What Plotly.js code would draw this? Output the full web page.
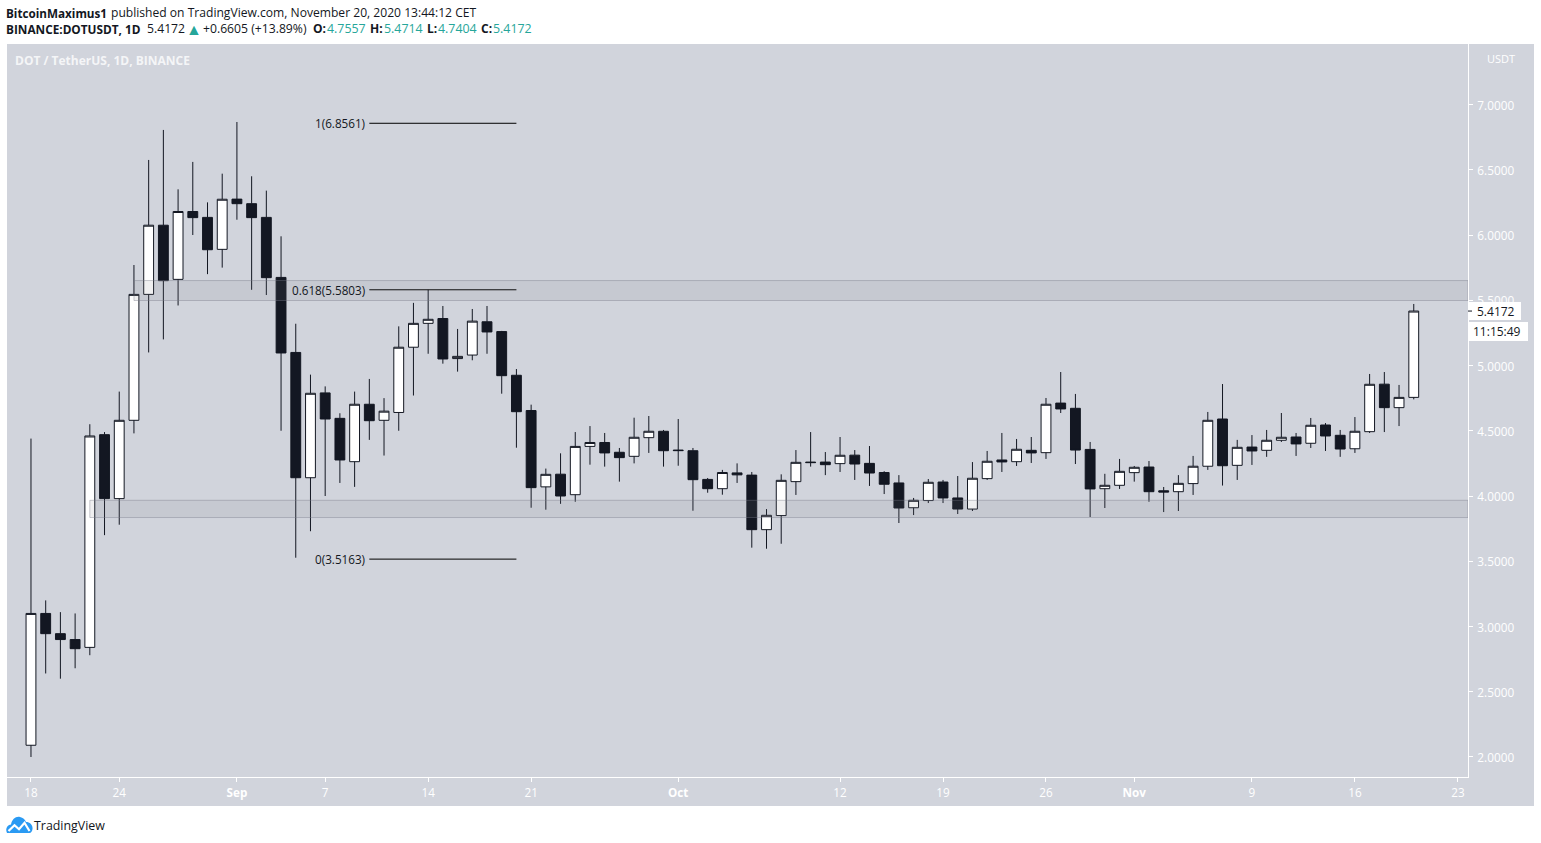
<!DOCTYPE html>
<html>
<head>
<meta charset="utf-8">
<script src="https://cdn.plot.ly/plotly-3.0.1.min.js"></script>
<style>html,body{margin:0;padding:0;background:#fff;overflow:hidden}#chart{width:1541px;height:843px}</style>
</head>
<body>
<div id="chart"></div>
<script>
const dates = [
"2020-08-18","2020-08-19","2020-08-20","2020-08-21","2020-08-22","2020-08-23","2020-08-24","2020-08-25","2020-08-26","2020-08-27","2020-08-28","2020-08-29","2020-08-30","2020-08-31",
"2020-09-01","2020-09-02","2020-09-03","2020-09-04","2020-09-05","2020-09-06","2020-09-07","2020-09-08","2020-09-09","2020-09-10","2020-09-11","2020-09-12","2020-09-13","2020-09-14","2020-09-15","2020-09-16","2020-09-17","2020-09-18","2020-09-19","2020-09-20","2020-09-21","2020-09-22","2020-09-23","2020-09-24","2020-09-25","2020-09-26","2020-09-27","2020-09-28","2020-09-29","2020-09-30",
"2020-10-01","2020-10-02","2020-10-03","2020-10-04","2020-10-05","2020-10-06","2020-10-07","2020-10-08","2020-10-09","2020-10-10","2020-10-11","2020-10-12","2020-10-13","2020-10-14","2020-10-15","2020-10-16","2020-10-17","2020-10-18","2020-10-19","2020-10-20","2020-10-21","2020-10-22","2020-10-23","2020-10-24","2020-10-25","2020-10-26","2020-10-27","2020-10-28","2020-10-29","2020-10-30","2020-10-31",
"2020-11-01","2020-11-02","2020-11-03","2020-11-04","2020-11-05","2020-11-06","2020-11-07","2020-11-08","2020-11-09","2020-11-10","2020-11-11","2020-11-12","2020-11-13","2020-11-14","2020-11-15","2020-11-16","2020-11-17","2020-11-18","2020-11-19","2020-11-20"];
const opens = [2.09,3.10,2.945,2.90,2.84,4.47,3.98,4.58,5.545,6.075,5.66,6.18,6.135,5.89,
6.275,6.24,6.135,5.675,5.10,4.14,4.79,4.595,4.263,4.703,4.58,4.64,5.14,5.323,5.36,5.053,5.08,5.335,5.26,4.925,4.655,4.07,4.167,4.01,4.38,4.41,4.335,4.304,4.447,4.496,
4.352,4.347,4.127,4.056,4.177,4.16,3.742,3.85,4.11,4.26,4.26,4.248,4.313,4.25,4.18,4.10,3.91,3.965,4.107,3.985,3.90,4.133,4.276,4.263,4.35,4.332,4.712,4.672,4.357,4.056,4.082,
4.179,4.222,4.04,4.033,4.095,4.228,4.59,4.235,4.375,4.35,4.427,4.452,4.404,4.544,4.465,4.362,4.493,4.857,4.677,4.7557];
const highs = [4.44,3.20,3.11,3.10,4.55,4.49,4.80,5.77,6.575,6.805,6.35,6.56,6.25,6.47,
6.866,6.45,6.34,5.99,5.32,4.93,4.84,4.634,4.80,4.897,4.75,5.30,5.48,5.58,5.456,5.28,5.433,5.456,5.265,4.973,4.70,4.21,4.327,4.49,4.536,4.483,4.368,4.60,4.613,4.506,
4.59,4.368,4.138,4.20,4.25,4.184,3.90,4.166,4.352,4.49,4.337,4.452,4.352,4.383,4.19,4.16,3.985,4.13,4.123,4.153,4.26,4.345,4.483,4.437,4.452,4.751,4.95,4.782,4.414,4.17,4.284,
4.23,4.268,4.069,4.16,4.307,4.644,4.858,4.43,4.467,4.506,4.636,4.483,4.598,4.559,4.506,4.605,4.935,4.95,4.851,5.4714];
const lows = [2.00,2.64,2.60,2.68,2.78,3.70,3.78,4.48,5.10,5.20,5.46,6.00,5.70,5.75,
6.117,5.58,5.54,4.50,3.527,3.73,4.00,4.10,4.07,4.43,4.31,4.50,4.77,5.09,5.014,4.953,5.04,5.09,4.784,4.37,3.91,3.895,3.94,3.956,4.24,4.225,4.11,4.25,4.33,4.225,
4.232,3.887,4.025,4.01,4.10,3.604,3.596,3.634,4.008,4.225,4.16,4.184,4.123,4.077,4.015,3.793,3.854,3.946,3.946,3.862,3.885,4.123,4.184,4.23,4.253,4.284,4.636,4.245,3.839,3.908,4.054,
4.11,3.956,3.877,3.885,4.008,4.20,4.08,4.123,4.238,4.30,4.414,4.307,4.368,4.345,4.30,4.33,4.483,4.49,4.536,4.7404];
const closes = [3.10,2.945,2.90,2.83,4.46,3.98,4.58,5.545,6.075,5.65,6.18,6.133,5.887,6.274,
6.24,6.133,5.673,5.096,4.14,4.787,4.59,4.276,4.703,4.577,4.65,5.14,5.323,5.354,5.05,5.07,5.34,5.257,4.922,4.646,4.064,4.166,4.00,4.38,4.41,4.33,4.294,4.45,4.496,4.347,
4.348,4.125,4.056,4.18,4.162,3.742,3.852,4.12,4.258,4.256,4.24,4.312,4.245,4.176,4.09,3.908,3.967,4.105,3.985,3.90,4.136,4.266,4.261,4.358,4.33,4.703,4.667,4.352,4.054,4.082,4.189,
4.22,4.033,4.03,4.097,4.228,4.58,4.232,4.373,4.345,4.427,4.45,4.399,4.542,4.46,4.36,4.496,4.856,4.677,4.7557,5.4172];

const yTicks = [2,2.5,3,3.5,4,4.5,5,5.5,6,6.5,7];
const yTickText = ["2.0000","2.5000","3.0000","3.5000","4.0000","4.5000","5.0000","5.5000","6.0000","6.5000","7.0000"];
const xTicks = ["2020-08-18","2020-08-24","2020-09-01","2020-09-07","2020-09-14","2020-09-21","2020-10-01","2020-10-12","2020-10-19","2020-10-26","2020-11-01","2020-11-09","2020-11-16","2020-11-23"];
const xTickText = ["18","24","<b>Sep</b>","7","14","21","<b>Oct</b>","12","19","26","<b>Nov</b>","9","16","23"];

const fibLevels = [6.8561,5.5803,3.5163];
const fibNames = ["1(6.8561)","0.618(5.5803)","0(3.5163)"];
const fibStart = "2020-09-10", fibEnd = "2020-09-20";
const zones = [{from:"2020-08-25",lo:5.498,hi:5.651},{from:"2020-08-22",lo:3.835,hi:3.967}];
const lastPrice = 5.4172;

const INK = "#131722", PANEL = "#d1d4dc", TEAL = "#26a69a";
const FONT = '"Open Sans","Noto Sans",sans-serif';
const xEnd = "2020-11-23 16:30";

const logoSvg = '<svg xmlns="http://www.w3.org/2000/svg" width="27" height="18" viewBox="0 0 27 18">'+
 '<path d="M1 17 C-1 13 1 9 5 8.5 C6 3 10 0 14 1 C17 1.6 19 3.5 20 6 C24 6 27 9 26.5 13 C26.3 15 25 17 23.5 17 Z" fill="#2a9af3"/>'+
 '<path d="M2.5 15 L8.5 9.2 L13 13.2 L18.5 6.8 L23.5 15" fill="none" stroke="#fff" stroke-width="2.2"/></svg>';

const traces = [{
  type:"candlestick", x:dates, open:opens, high:highs, low:lows, close:closes,
  increasing:{line:{color:INK,width:1},fillcolor:"#ffffff"},
  decreasing:{line:{color:INK,width:1},fillcolor:INK},
  whiskerwidth:0, hoverinfo:"skip", showlegend:false
}];
fibLevels.forEach(v=>traces.push({type:"scatter",mode:"lines",x:[fibStart,fibEnd],y:[v,v],
  line:{color:"#000000",width:1},hoverinfo:"skip",showlegend:false}));

const px = v=>(v-7)/1461, py = v=>(777-v)/733;
const shapes = [
 {type:"rect",xref:"paper",yref:"paper",x0:px(7),x1:px(1534),y0:py(806),y1:1,fillcolor:PANEL,line:{width:0},layer:"below"}
].concat(zones.map(z=>({type:"rect",xref:"x",yref:"y",x0:z.from,x1:xEnd,y0:z.lo,y1:z.hi,
  fillcolor:"rgba(120,123,134,0.12)",line:{color:"rgba(120,123,134,0.4)",width:1},layer:"above"})),[
 {type:"rect",xref:"paper",yref:"paper",x0:px(1469),x1:px(1521),y0:py(320),y1:py(302),fillcolor:"#ffffff",line:{width:0},layer:"above"},
 {type:"rect",xref:"paper",yref:"paper",x0:px(1469),x1:px(1528),y0:py(341),y1:py(322),fillcolor:"#ffffff",line:{width:0},layer:"above"},
 {type:"line",xref:"paper",yref:"y",x0:px(1468),x1:px(1472),y0:lastPrice,y1:lastPrice,line:{color:INK,width:1}}
]);

// left: pixel where the glyphs start; annotations add 2px of padding
const ann = (left,mid,text,size,color,bold)=>({showarrow:false,xref:"paper",yref:"paper",xanchor:"left",yanchor:"middle",
  x:px(left-2),y:py(mid),text:bold?"<b>"+text+"</b>":text,font:{family:FONT,size:size||12,color:color||INK}});
const annotations = [
 ann(6,13,"BitcoinMaximus1",11.7,INK,true),
 ann(111,13,"published on TradingView.com, November 20, 2020 13:44:12 CET",12.1),
 ann(6,29,"BINANCE:DOTUSDT, 1D",11.8,INK,true),
 ann(147,29,"5.4172",12.2),
 ann(186,29,"▲",16,TEAL),
 ann(203,29,"+0.6605 (+13.89%)",12.2),
 ann(313,29,"O:",12,INK,true),
 ann(327,29,"4.7557",12.4,TEAL),
 ann(370,29,"H:",12,INK,true),
 ann(384,29,"5.4714",12.4,TEAL),
 ann(427,29,"L:",12,INK,true),
 ann(438,29,"4.7404",12.4,TEAL),
 ann(481,29,"C:",12,INK,true),
 ann(493,29,"5.4172",12.4,TEAL),
 ann(15,60,"DOT / TetherUS, 1D, BINANCE",12,"rgba(255,255,255,0.8)",true),
 ann(1487,58.5,"USDT",11,"#ffffff"),
 ann(34,825,"TradingView",12.4),
 ann(1477,311,"5.4172",12),
 ann(1473,331.5,"11:15:49",12)
].concat(fibLevels.map((v,i)=>({showarrow:false,xref:"x",yref:"y",x:fibStart,y:v,xanchor:"right",yanchor:"middle",xshift:-2,
  text:fibNames[i],font:{family:FONT,size:11.7,color:INK}})));

const layout = {
  width:1541,height:843,
  margin:{l:7,r:73,t:44,b:66,pad:0},
  paper_bgcolor:"#ffffff",plot_bgcolor:PANEL,
  showlegend:false,hovermode:false,boxgap:0.33,boxgroupgap:0,
  font:{family:FONT,size:12,color:"#ffffff"},
  xaxis:{type:"date",range:["2020-08-16 08:53",xEnd],rangeslider:{visible:false},
    tickmode:"array",tickvals:xTicks,ticktext:xTickText,showgrid:false,zeroline:false,
    showline:true,linecolor:"#ffffff",linewidth:1,ticks:"outside",ticklen:4,tickcolor:"#ffffff",ticklabelstandoff:1,
    tickfont:{family:FONT,size:11.7,color:"#ffffff"}},
  yaxis:{side:"right",range:[1.8467,7.4636],tickmode:"array",tickvals:yTicks,ticktext:yTickText,
    showgrid:false,zeroline:false,showline:true,linecolor:"#ffffff",linewidth:1,
    ticks:"outside",ticklen:4,tickcolor:"#ffffff",ticklabelstandoff:2,ticklabelshift:1,
    tickfont:{family:FONT,size:11.8,color:"#ffffff"}},
  shapes:shapes,annotations:annotations,
  images:[{source:"data:image/svg+xml;utf8,"+encodeURIComponent(logoSvg),xref:"paper",yref:"paper",
    x:px(6),y:py(816),sizex:27/1461,sizey:18/733,xanchor:"left",yanchor:"top",sizing:"stretch",layer:"above"}]
};
Plotly.newPlot("chart",traces,layout,{displayModeBar:false,staticPlot:true});
</script>
</body>
</html>
